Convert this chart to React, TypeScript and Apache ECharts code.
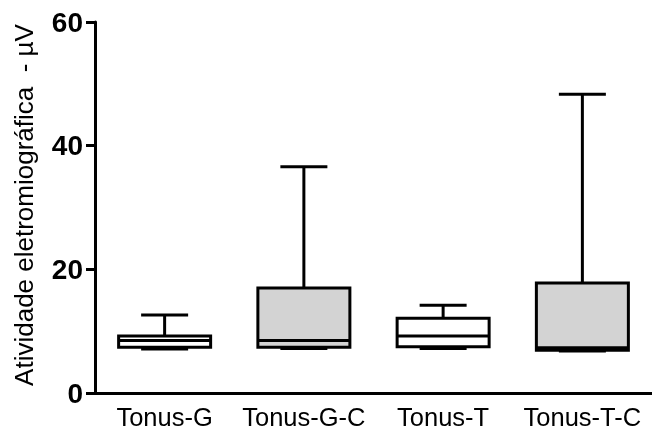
import React, { useEffect, useRef } from "react";
import * as echarts from "echarts";

const categories = ["Tonus-G", "Tonus-G-C", "Tonus-T", "Tonus-T-C"];
const minValues = [7.1, 7.2, 7.2, 6.8];
const q1Values = [7.4, 7.4, 7.5, 6.9];
const medianValues = [8.5, 8.5, 9.2, 7.3];
const q3Values = [9.2, 17.0, 12.1, 17.8];
const maxValues = [12.6, 36.6, 14.2, 48.3];
const yTicks = [0, 20, 40, 60];

const boxFills = ["#ffffff", "#d3d3d3", "#ffffff", "#d3d3d3"];
const FONT = "'Liberation Sans', Arial, sans-serif";

export default function App() {
  const ref = useRef<HTMLDivElement>(null);
  useEffect(() => {
    if (!ref.current) return;
    const chart = echarts.init(ref.current, undefined, { renderer: "svg" });
    const data = categories.map((c, i) => [i, minValues[i], q1Values[i], medianValues[i], q3Values[i], maxValues[i]]);
    const lw = 3;
    const stroke = "#000";
    chart.setOption({
      animation: false,
      grid: { left: 95, top: 22, width: 563, height: 371 },
      xAxis: {
        type: "category",
        data: categories,
        boundaryGap: true,
        axisLine: { lineStyle: { color: "#000", width: 3 } },
        axisTick: { alignWithLabel: true, interval: 0, length: 9, lineStyle: { color: "#000", width: 3 } },
        axisLabel: { color: "#000", fontSize: 25.5, fontFamily: FONT, margin: 11, interval: 0 },
        splitLine: { show: false },
      },
      yAxis: {
        type: "value",
        min: yTicks[0],
        max: yTicks[yTicks.length - 1],
        interval: 20,
        axisLine: { show: true, lineStyle: { color: "#000", width: 3 } },
        axisTick: { show: true, length: 9, lineStyle: { color: "#000", width: 3 } },
        axisLabel: { color: "#000", fontSize: 28, fontWeight: "bold", fontFamily: FONT, margin: 12 },
        splitLine: { show: false },
      },
      graphic: [
        {
          type: "text",
          x: 24,
          y: 205,
          rotation: Math.PI / 2,
          style: {
            text: "Atividade eletromiográfica  - µV",
            fontSize: 26,
            fontFamily: FONT,
            fill: "#000",
            align: "center",
            verticalAlign: "middle",
          },
        },
      ],
      series: [
        {
          type: "custom",
          data,
          renderItem: (params: any, api: any) => {
            const idx = api.value(0);
            const pMin = api.coord([idx, api.value(1)]);
            const pQ1 = api.coord([idx, api.value(2)]);
            const pMed = api.coord([idx, api.value(3)]);
            const pQ3 = api.coord([idx, api.value(4)]);
            const pMax = api.coord([idx, api.value(5)]);
            const cx = pMed[0];
            const hw = 46;
            const cw = 23.5;
            const ls = { stroke, lineWidth: lw };
            return {
              type: "group",
              children: [
                { type: "line", shape: { x1: cx, y1: pQ3[1], x2: cx, y2: pMax[1] }, style: ls },
                { type: "line", shape: { x1: cx - cw, y1: pMax[1], x2: cx + cw, y2: pMax[1] }, style: ls },
                { type: "line", shape: { x1: cx, y1: pQ1[1], x2: cx, y2: pMin[1] }, style: ls },
                { type: "line", shape: { x1: cx - cw, y1: pMin[1], x2: cx + cw, y2: pMin[1] }, style: ls },
                {
                  type: "rect",
                  shape: { x: cx - hw, y: pQ3[1], width: hw * 2, height: pQ1[1] - pQ3[1] },
                  style: { fill: boxFills[idx], stroke, lineWidth: lw },
                },
                { type: "line", shape: { x1: cx - hw, y1: pMed[1], x2: cx + hw, y2: pMed[1] }, style: ls },
              ],
            };
          },
        },
      ],
    });
    return () => chart.dispose();
  }, []);
  return <div ref={ref} style={{ position: "fixed", left: 0, top: 0, width: 652, height: 434 }} />;
}
